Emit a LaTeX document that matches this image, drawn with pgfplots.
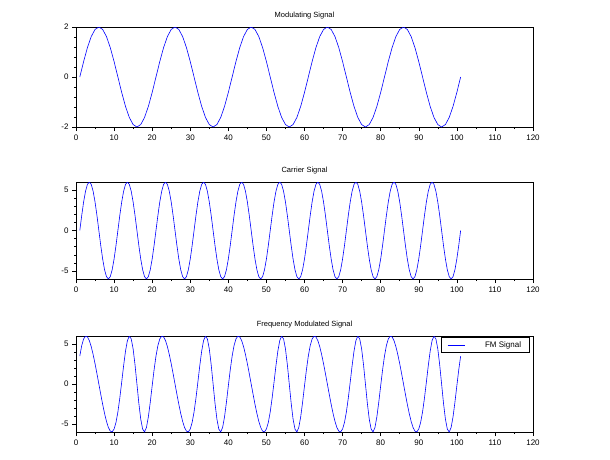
\documentclass[border=0pt]{standalone}
\usepackage{pgfplots}
\usepackage{pgfplotstable}
\pgfplotsset{compat=1.18}
\usepackage{fontspec}
\setmainfont{Liberation Sans}
\pgfplotstableread{
x y
1 0
2 0.618
3 1.176
4 1.618
5 1.902
6 2
7 1.902
8 1.618
9 1.176
10 0.618
11 0
12 -0.618
13 -1.176
14 -1.618
15 -1.902
16 -2
17 -1.902
18 -1.618
19 -1.176
20 -0.618
21 0
}\modtab
\pgfplotstableread{
x y
1 0
1.5 1.854
2 3.527
2.5 4.854
3 5.706
3.5 6
4 5.706
4.5 4.854
5 3.527
5.5 1.854
6 0
6.5 -1.854
7 -3.527
7.5 -4.854
8 -5.706
8.5 -6
9 -5.706
9.5 -4.854
10 -3.527
10.5 -1.854
11 0
}\cartab
\pgfplotstableread{
x y
1 3.49
1.5 4.80
2 5.63
2.5 5.98
3 5.89
3.5 5.43
4 4.67
4.5 3.68
5 2.54
5.5 1.29
6 0
6.5 -1.29
7 -2.54
7.5 -3.68
8 -4.67
8.5 -5.43
9 -5.89
9.5 -5.98
10 -5.63
10.5 -4.80
11 -3.49
11.5 -1.76
12 0.23
12.5 2.28
13 4.11
13.5 5.43
14 5.99
14.5 5.64
15 4.39
15.5 2.40
16 0
16.5 -2.40
17 -4.39
17.5 -5.64
18 -5.99
18.5 -5.43
19 -4.11
19.5 -2.28
20 -0.23
20.5 1.76
21 3.49
}\fmtab
\pgfplotsset{
  myax/.style={
    scale only axis, width=457pt, anchor=north west,
    xmin=0, xmax=120, xtick={0,10,...,120},
    minor x tick num=1, minor y tick num=4,
    tick align=outside, xtick pos=bottom, ytick pos=left,
    tick style={black, line width=0.5pt},
    major tick length=4pt, minor tick length=2pt,
    axis line style={line width=0.6pt},
    tick label style={font=\fontsize{8}{9}\selectfont},
    title style={font=\fontsize{7.5}{9}\selectfont, yshift=-2pt},
    /pgf/number format/assume math mode=true,
  },
}
\begin{document}
\begin{tikzpicture}
\path (0pt,0pt) rectangle (610pt,-460pt);
\begin{axis}[myax, at={(76pt,-27pt)}, height=100pt, ymin=-2, ymax=2, ytick={-2,0,2}, title={Modulating Signal}]
\pgfplotsinvokeforeach{0,20,40,60,80}{
\addplot[blue, line width=0.6pt] table[x expr=\thisrow{x}+#1, y=y] {\modtab};}
\end{axis}
\begin{axis}[myax, at={(76pt,-182pt)}, height=97pt, ymin=-6, ymax=6, ytick={-5,0,5}, title={Carrier Signal}]
\pgfplotsinvokeforeach{0,10,20,30,40,50,60,70,80,90}{
\addplot[blue, line width=0.6pt] table[x expr=\thisrow{x}+#1, y=y] {\cartab};}
\end{axis}
\begin{axis}[myax, at={(76pt,-336pt)}, height=96pt, ymin=-6, ymax=6, ytick={-5,0,5}, title={Frequency Modulated Signal},
  legend style={at={(0.992,0.99)}, anchor=north east, font=\fontsize{8}{9}\selectfont, draw=black, line width=0.6pt, inner xsep=6pt, inner ysep=2pt, cells={anchor=west}},
  legend image post style={line width=0.6pt}]
\pgfplotsinvokeforeach{0,20,40,60,80}{
\addplot[blue, line width=0.6pt, forget plot] table[x expr=\thisrow{x}+#1, y=y] {\fmtab};}
\addlegendimage{blue, line width=0.6pt, line legend}
\addlegendentry{\hspace{18pt}FM Signal\hspace{4pt}}
\end{axis}
\end{tikzpicture}
\end{document}
